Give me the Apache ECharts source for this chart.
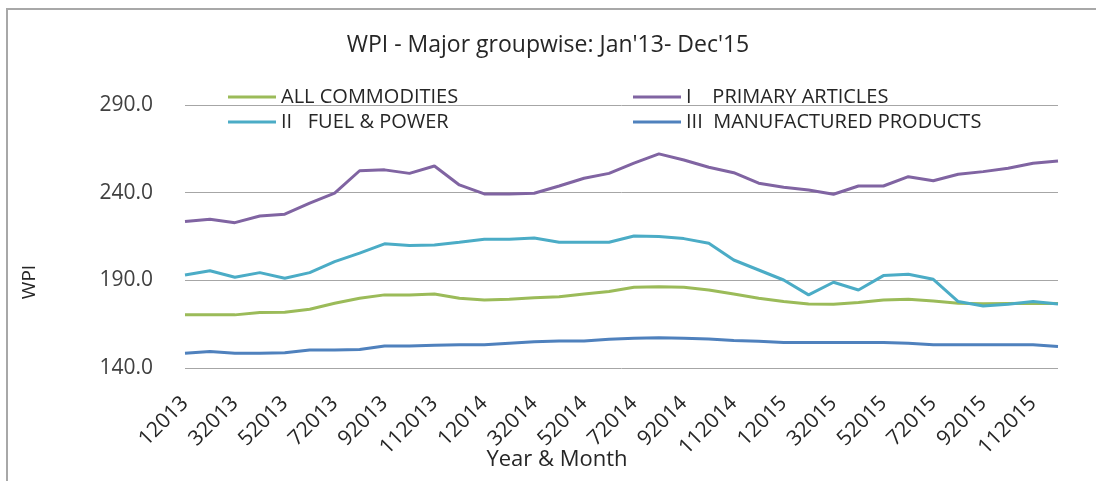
<!DOCTYPE html>
<html>
<head>
<meta charset="utf-8">
<script src="https://cdn.jsdelivr.net/npm/echarts@6/dist/echarts.min.js"></script>
<style>
  html, body { margin: 0; padding: 0; background: #fff; }
  #chart { width: 1096px; height: 481px; }
</style>
</head>
<body>
<div id="chart"></div>
<script>
// months Jan 2013 .. Dec 2015, labelled like the source sheet
var months = [
  '12013', '22013', '32013', '42013', '52013', '62013', '72013', '82013', '92013', '102013', '112013', '122013',
  '12014', '22014', '32014', '42014', '52014', '62014', '72014', '82014', '92014', '102014', '112014', '122014',
  '12015', '22015', '32015', '42015', '52015', '62015', '72015', '82015', '92015', '102015', '112015', '122015'
];
var yTicks = [140, 190, 240, 290];

var allCommodities = [
  170.3, 170.4, 170.3, 171.6, 171.8, 173.5, 176.9, 179.8, 181.7, 181.7, 182.2, 179.8,
  178.8, 179.2, 180.1, 180.7, 182.2, 183.6, 186.0, 186.4, 186.0, 184.5, 182.2, 179.8,
  177.9, 176.5, 176.4, 177.3, 178.8, 179.2, 178.2, 176.9, 176.6, 176.8, 177.0, 176.8
];
var primaryArticles = [
  223.5, 224.8, 222.9, 226.7, 227.7, 234.0, 239.7, 252.5, 253.0, 251.0, 255.2, 244.4,
  239.3, 239.3, 239.7, 243.8, 248.2, 251.0, 256.8, 262.1, 258.6, 254.5, 251.4, 245.4,
  243.1, 241.5, 239.1, 243.8, 243.8, 249.1, 246.8, 250.5, 252.0, 253.9, 256.8, 258.1
];
var fuelPower = [
  193.1, 195.5, 191.8, 194.4, 191.2, 194.4, 200.7, 205.5, 210.8, 209.8, 210.2, 211.7,
  213.4, 213.4, 214.2, 211.7, 211.7, 211.7, 215.3, 215.0, 213.8, 211.2, 201.6, 195.9,
  190.2, 181.7, 188.9, 184.5, 192.7, 193.5, 190.6, 177.9, 175.4, 176.4, 177.9, 176.5
];
var manufactured = [
  148.4, 149.4, 148.4, 148.4, 148.7, 150.2, 150.2, 150.5, 152.6, 152.6, 153.0, 153.2,
  153.2, 154.1, 155.0, 155.4, 155.4, 156.4, 157.0, 157.3, 157.0, 156.6, 155.7, 155.2,
  154.5, 154.5, 154.5, 154.5, 154.5, 154.1, 153.2, 153.2, 153.2, 153.2, 153.2, 152.3
];

var names = ['ALL COMMODITIES', 'I    PRIMARY ARTICLES', 'II   FUEL & POWER', 'III  MANUFACTURED PRODUCTS'];
var colors = ['#9bbb59', '#8064a2', '#4bacc6', '#4f81bd'];
var seriesData = [allCommodities, primaryArticles, fuelPower, manufactured];

var font = '"Open Sans", Lato, sans-serif';
var legendPos = [[228, 87], [633, 87], [228, 112], [633, 112]];

var chart = echarts.init(document.getElementById('chart'));

var option = {
  animation: false,
  title: {
    text: "WPI - Major groupwise: Jan'13- Dec'15",
    left: 'center',
    top: 29,
    textStyle: { fontFamily: font, fontSize: 23, fontWeight: 'normal', color: '#262626' }
  },
  legend: names.map(function (n, i) {
    return {
      data: [n],
      left: legendPos[i][0],
      top: legendPos[i][1],
      padding: 0,
      icon: 'rect',
      itemWidth: 48,
      itemHeight: 3,
      itemGap: 0,
      textStyle: { fontFamily: font, fontSize: 20, color: '#262626' }
    };
  }),
  grid: { left: 185, right: 38, top: 105, bottom: 113 },
  xAxis: {
    type: 'category',
    data: months,
    boundaryGap: false,
    axisLine: { show: false },
    axisTick: { show: false },
    axisLabel: {
      interval: 1,
      rotate: 45,
      margin: 32,
      padding: [0, 0, 0, 0],
      fontFamily: font,
      fontSize: 21,
      color: '#262626'
    }
  },
  yAxis: {
    type: 'value',
    min: yTicks[0],
    max: yTicks[yTicks.length - 1],
    interval: 50,
    axisLine: { show: false },
    axisTick: { show: false },
    axisLabel: {
      margin: 32,
      fontFamily: font,
      fontSize: 21,
      color: '#404040',
      formatter: function (v) { return v.toFixed(1); }
    },
    splitLine: { lineStyle: { color: '#a6a6a6', width: 1 } }
  },
  graphic: [
    {
      type: 'rect',
      shape: { x: 7, y: 9, width: 1100, height: 490 },
      style: { fill: 'none', stroke: '#a8a8a8', lineWidth: 2 },
      silent: true
    },
    {
      type: 'text',
      x: 30, y: 282,
      rotation: Math.PI / 2,
      style: { text: 'WPI', fontFamily: font, fontSize: 19, fill: '#262626', align: 'center', verticalAlign: 'middle' }
    },
    {
      type: 'text',
      x: 557, y: 460,
      style: { text: 'Year & Month', fontFamily: font, fontSize: 22, fill: '#262626', align: 'center', verticalAlign: 'middle' }
    }
  ],
  series: names.map(function (n, i) {
    return {
      name: n,
      type: 'line',
      data: seriesData[i],
      showSymbol: false,
      smooth: false,
      color: colors[i],
      lineStyle: { width: 3, color: colors[i] }
    };
  })
};

chart.setOption(option);
</script>
</body>
</html>
